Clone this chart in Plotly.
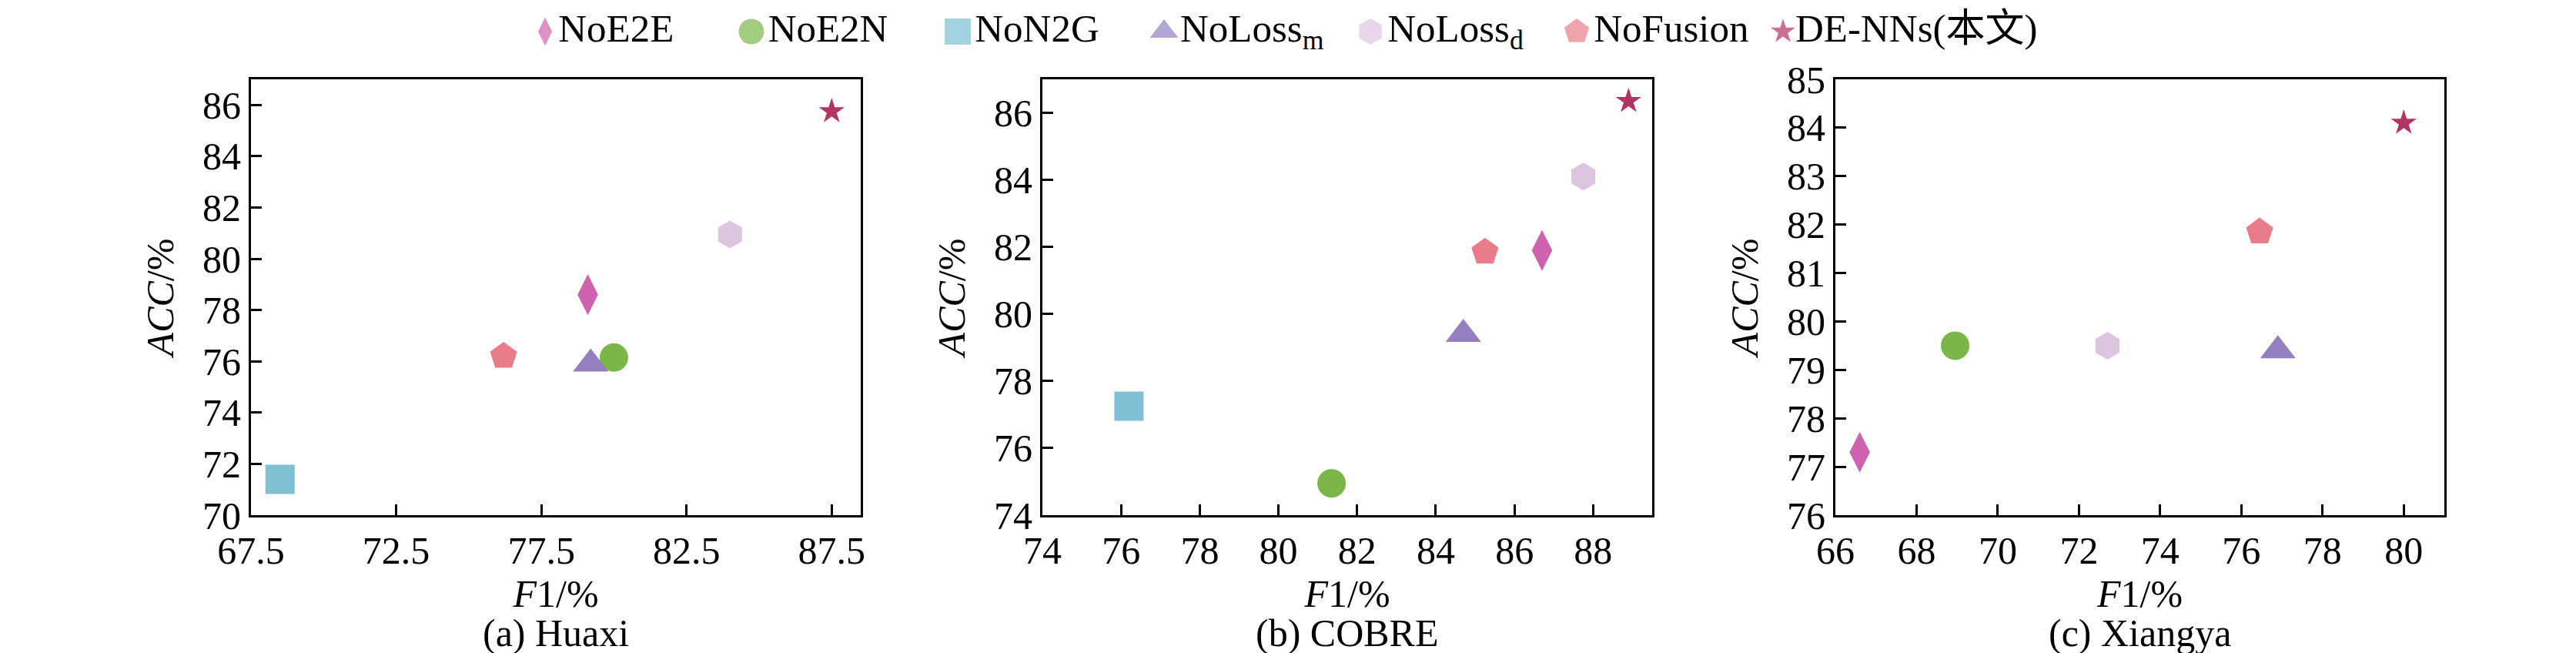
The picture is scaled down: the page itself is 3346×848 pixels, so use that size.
import plotly.graph_objects as go

# ablation methods, legend order
methods = ["NoE2E", "NoE2N", "NoN2G", "NoLoss_m", "NoLoss_d", "NoFusion", "DE-NNs(本文)"]
labels = ["NoE2E", "NoE2N", "NoN2G", "NoLoss<sub>m</sub>", "NoLoss<sub>d</sub>", "NoFusion", "DE-NNs(本文)"]
symbols = ["diamond-tall", "circle", "square", "triangle-up", "hexagon", "pentagon", "star"]
colors = ["#CE62AE", "#7AB648", "#7FC0D4", "#9480C0", "#DCC5DE", "#E87D89", "#B03565"]
sizes = [38, 37, 38, 40, 36, 37, 25]
legend_sizes = [26, 33, 34, 32, 34, 34, 24]

# (a) Huaxi
huaxi_f1 = [79.1, 80.0, 68.5, 79.2, 84.0, 76.2, 87.5]
huaxi_acc = [78.6, 76.15, 71.4, 75.9, 80.95, 76.2, 85.75]
# (b) COBRE
cobre_f1 = [86.7, 81.35, 76.2, 84.7, 87.75, 85.25, 88.9]
cobre_acc = [81.9, 74.95, 77.25, 79.4, 84.1, 81.85, 86.35]
# (c) Xiangya (no NoN2G result)
xiangya_f1 = [66.6, 68.95, None, 76.9, 72.7, 76.45, 80.0]
xiangya_acc = [77.3, 79.5, None, 79.4, 79.5, 81.85, 84.1]

W, H = 3346, 848


def px_x(p):
    return p / W


def px_y(p):
    return 1 - p / H


panels = [
    ("(a) Huaxi", huaxi_f1, huaxi_acc, [67.5, 88.5], 67.5, 5, [70, 87], 70, 2, (318, 1110)),
    ("(b) COBRE", cobre_f1, cobre_acc, [74, 89.5], 74, 2, [74, 87], 74, 2, (1346, 2138)),
    ("(c) Xiangya", xiangya_f1, xiangya_acc, [66, 81], 66, 2, [76, 85], 76, 1, (2376, 3167)),
]

FONT = "Liberation Serif, Times New Roman, Noto Sans CJK SC"
fig = go.Figure()

annotations = []
for i, (name, f1, acc, xr, x0, dx, yr, y0, dy, edges) in enumerate(panels):
    ax = "" if i == 0 else str(i + 1)
    dom = [px_x(edges[0]), px_x(edges[1])]
    for m in range(len(methods)):
        if f1[m] is None:
            continue
        fig.add_trace(go.Scatter(
            x=[f1[m]], y=[acc[m]], mode="markers", name=methods[m],
            xaxis="x" + ax, yaxis="y" + ax, showlegend=False,
            marker=dict(symbol=symbols[m], color=colors[m], size=sizes[m], line=dict(width=0)),
        ))
    axis_common = dict(
        showline=True, linecolor="black", linewidth=3, mirror=True,
        ticks="inside", ticklen=14, tickwidth=3, tickcolor="black",
        showgrid=False, zeroline=False, automargin=False,
        tickfont=dict(family=FONT, size=50, color="black"),
        title_font=dict(family=FONT, size=50, color="black"),
    )
    fig.layout["xaxis" + ax] = dict(
        axis_common, domain=dom, range=xr, tick0=x0, dtick=dx, anchor="y" + ax,
        title=dict(text="<i>F</i>1/%", standoff=6),
    )
    fig.layout["yaxis" + ax] = dict(
        axis_common, domain=[px_y(661), px_y(95)], range=yr, tick0=y0, dtick=dy,
        anchor="x" + ax, title=dict(text="<i>ACC</i>/%", standoff=22),
    )
    annotations.append(dict(
        text=name, xref="paper", yref="paper", x=sum(dom) / 2, y=px_y(814),
        xanchor="center", yanchor="middle", showarrow=False,
        font=dict(family=FONT, size=50, color="black"),
    ))

# legend row drawn on a hidden category axis so the symbols keep their size
fig.add_trace(go.Scatter(
    x=methods, y=[0] * len(methods), mode="markers+text", text=labels,
    textposition="middle right", xaxis="x4", yaxis="y4", showlegend=False,
    textfont=dict(family=FONT, size=51, color="black"),
    marker=dict(symbol=symbols, color=colors, size=legend_sizes, line=dict(width=0)),
    cliponaxis=False,
))
fig.layout["xaxis4"] = dict(domain=[px_x(566), px_x(2442)], range=[-0.5, 6.5], type="category",
                            visible=False, anchor="y4", automargin=False)
fig.layout["yaxis4"] = dict(domain=[px_y(66), px_y(0)], range=[-1, 1], visible=False,
                            anchor="x4", automargin=False)

fig.update_layout(
    width=W, height=H,
    margin=dict(l=0, r=0, t=0, b=0),
    paper_bgcolor="white", plot_bgcolor="white",
    annotations=annotations,
    font=dict(family=FONT, color="black"),
)

fig.write_html("out.html")
